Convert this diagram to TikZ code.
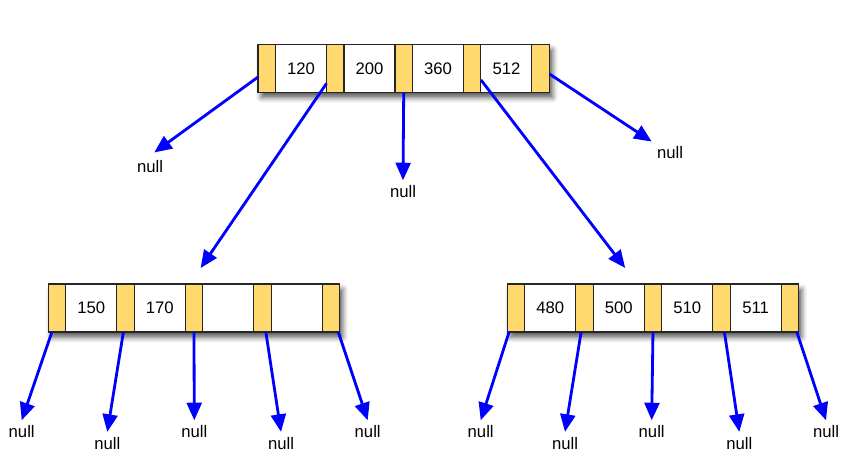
\documentclass[tikz,border=0pt]{standalone}
\usepackage{fontspec}
\setmainfont{Liberation Sans}
\usetikzlibrary{positioning,arrows.meta,shadows.blur,backgrounds}
\definecolor{ptryellow}{RGB}{255,217,110}

\tikzset{
	ptrcell/.style={draw=black!85, line width=0.6pt, fill=ptryellow, minimum width=0.35cm, minimum height=0.96cm, inner sep=0pt, outer sep=0pt},
	keycell/.style={draw=black!85, line width=0.6pt, fill=white, minimum width=1.02cm, minimum height=0.96cm, inner sep=0pt, outer sep=0pt, font=\fontsize{9.5}{11}\selectfont},
	nullref/.style={inner sep=1pt, outer sep=2pt, font=\fontsize{9.5}{11}\selectfont},
	link/.style={draw=blue, line width=1.6pt, -{Triangle[length=10pt,width=8.5pt]}},
	nodeshadow/.style={fill=white, blur shadow={shadow xshift=1.8pt, shadow yshift=-3pt, shadow blur radius=3pt, shadow opacity=65}}
}

\begin{document}
\begin{tikzpicture}[x=0.02cm, y=-0.02cm]
	\useasboundingbox ( 0, 0 ) rectangle ( 859, 475 );

	% корень
	\node [ptrcell] (rp1) at ( 266.75, 68.3 ) {};
	\node [keycell, right=0pt of rp1] (rk1) {120};
	\node [ptrcell, right=0pt of rk1] (rp2) {};
	\node [keycell, right=0pt of rp2] (rk2) {200};
	\node [ptrcell, right=0pt of rk2] (rp3) {};
	\node [keycell, right=0pt of rp3] (rk3) {360};
	\node [ptrcell, right=0pt of rk3] (rp4) {};
	\node [keycell, right=0pt of rp4] (rk4) {512};
	\node [ptrcell, right=0pt of rk4] (rp5) {};

	% левый потомок
	\node [ptrcell] (ap1) at ( 57, 308 ) {};
	\node [keycell, right=0pt of ap1] (ak1) {150};
	\node [ptrcell, right=0pt of ak1] (ap2) {};
	\node [keycell, right=0pt of ap2] (ak2) {170};
	\node [ptrcell, right=0pt of ak2] (ap3) {};
	\node [keycell, right=0pt of ap3] (ak3) {};
	\node [ptrcell, right=0pt of ak3] (ap4) {};
	\node [keycell, right=0pt of ap4] (ak4) {};
	\node [ptrcell, right=0pt of ak4] (ap5) {};

	% правый потомок
	\node [ptrcell] (bp1) at ( 516, 308 ) {};
	\node [keycell, right=0pt of bp1] (bk1) {480};
	\node [ptrcell, right=0pt of bk1] (bp2) {};
	\node [keycell, right=0pt of bp2] (bk2) {500};
	\node [ptrcell, right=0pt of bk2] (bp3) {};
	\node [keycell, right=0pt of bp3] (bk3) {510};
	\node [ptrcell, right=0pt of bk3] (bp4) {};
	\node [keycell, right=0pt of bp4] (bk4) {511};
	\node [ptrcell, right=0pt of bk4] (bp5) {};

	% тени узлов
	\begin{scope}[on background layer]
		\path [nodeshadow] (rp1.north west) rectangle (rp5.south east);
		\path [nodeshadow] (ap1.north west) rectangle (ap5.south east);
		\path [nodeshadow] (bp1.north west) rectangle (bp5.south east);
	\end{scope}

	% пустые ссылки
	\node [nullref] (rn1) at ( 150, 167 ) {null};
	\node [nullref] (rn3) at ( 403, 191.7 ) {null};
	\node [nullref] (rn5) at ( 670, 153 ) {null};

	\node [nullref] (an1) at ( 21.7, 431.7 ) {null};
	\node [nullref] (an2) at ( 107.3, 443.3 ) {null};
	\node [nullref] (an3) at ( 194.3, 431.7 ) {null};
	\node [nullref] (an4) at ( 281, 443.3 ) {null};
	\node [nullref] (an5) at ( 367.7, 431.7 ) {null};

	\node [nullref] (bn1) at ( 480.7, 431.7 ) {null};
	\node [nullref] (bn2) at ( 565, 443.3 ) {null};
	\node [nullref] (bn3) at ( 651.7, 431.7 ) {null};
	\node [nullref] (bn4) at ( 739.3, 443.3 ) {null};
	\node [nullref] (bn5) at ( 826, 431.7 ) {null};

	% ссылки корня
	\draw [link, shorten >=3pt] (rp1.225) -- (rn1.north);
	\draw [link, shorten >=11pt] (rp2.240) -- (ap3.100);
	\draw [link] (rp3.south) -- (rn3.north);
	\draw [link, shorten >=11.5pt] (rp4.-53) -- (bk2.52);
	\draw [link] (rp5.-33) -- (rn5.north west);

	% ссылки левого потомка
	\draw [link] (ap1.258) -- (an1.north);
	\draw [link] (ap2.265) -- (an2.north);
	\draw [link] (ap3.south) -- (an3.north);
	\draw [link] (ap4.278) -- (an4.north);
	\draw [link] (ap5.287) -- (an5.north);

	% ссылки правого потомка
	\draw [link] (bp1.254) -- (bn1.north);
	\draw [link] (bp2.262) -- (bn2.north);
	\draw [link] (bp3.south) -- (bn3.north);
	\draw [link] (bp4.277) -- (bn4.north);
	\draw [link] (bp5.286) -- (bn5.north);
\end{tikzpicture}
\end{document}
